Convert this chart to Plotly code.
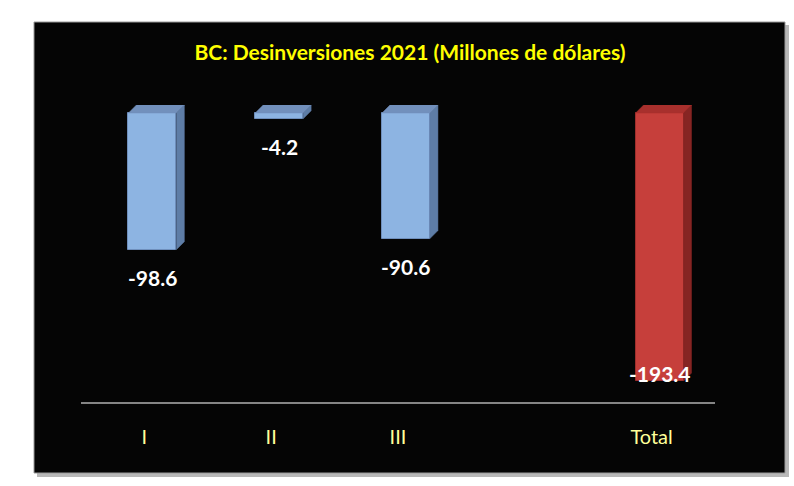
import plotly.graph_objects as go

# ---- data ----
categories = ["I", "II", "III", "", "Total"]
values = [-98.6, -4.2, -90.6, None, -193.4]
label_texts = ["-98.6", "-4.2", "-90.6", "", "-193.4"]
title_text = "BC: Desinversiones 2021 (Millones de dólares)"

# ---- style ----
FONT = "Lato"
front_cols = ["#8DB4E2", "#8DB4E2", "#8DB4E2", None, "#C63F3B"]
side_cols = ["#5E7DA6", "#5E7DA6", "#5E7DA6", None, "#862523"]
top_cols = ["#7290BC", "#7290BC", "#7290BC", None, "#A8302D"]
edge_cols = ["#6F8FBC", "#6F8FBC", "#6F8FBC", None, "#9E2F2C"]

W, H = 794, 486
ML, MR, MT, MB = 81, 79, 105, 84
YMIN, YMAX = -208.5, 5.8
BAR_W = 0.378
SHIFT = 0.063  # perspective offset of bars relative to tick labels
DX = 0.063     # depth in x units
DY = 5.8       # depth in y units

xpos = list(range(len(categories)))

fig = go.Figure()

# depth faces (side and top), computed from data
for i, v in enumerate(values):
    if v is None:
        continue
    xl = xpos[i] + SHIFT - BAR_W / 2
    xr = xpos[i] + SHIFT + BAR_W / 2
    fig.add_trace(go.Scatter(
        x=[xr, xr + DX, xr + DX, xr, xr],
        y=[0, DY, v + DY, v, 0],
        fill="toself", fillcolor=side_cols[i], mode="lines",
        line=dict(color=side_cols[i], width=0.5),
        hoverinfo="skip", showlegend=False))
    fig.add_trace(go.Scatter(
        x=[xl, xl + DX, xr + DX, xr, xl],
        y=[0, DY, DY, 0, 0],
        fill="toself", fillcolor=top_cols[i], mode="lines",
        line=dict(color=top_cols[i], width=0.5),
        hoverinfo="skip", showlegend=False))

fig.add_trace(go.Bar(
    x=xpos, y=values, width=BAR_W, offset=SHIFT - BAR_W / 2,
    marker=dict(color=[c or "rgba(0,0,0,0)" for c in front_cols],
                line=dict(color=[c or "rgba(0,0,0,0)" for c in edge_cols], width=1)),
    hoverinfo="skip", showlegend=False))

# data labels
annotations = []
for i, v in enumerate(values):
    if v is None:
        continue
    shifted_px = (YMAX - v) / (YMAX - YMIN) * (H - MT - MB) + 29
    if shifted_px > (H - MT - MB) - 10:
        y, ys = YMIN, 29
    else:
        y, ys = v, -28
    annotations.append(dict(
        x=xpos[i] + SHIFT, y=y, yshift=ys, text=f"<b>{label_texts[i]}</b>",
        showarrow=False, xanchor="center", yanchor="middle",
        font=dict(family=FONT, size=21, color="white")))

pw = W - ML - MR
ph = H - MT - MB
def px_x(p):
    return (p - ML) / pw
def px_y(p):
    return (H - MB - p) / ph

shapes = [
    dict(type="rect", xref="paper", yref="paper", layer="below",
         x0=px_x(37), x1=px_x(789), y0=px_y(477), y1=px_y(25),
         fillcolor="#B8B8B8", line=dict(width=0)),
    dict(type="rect", xref="paper", yref="paper", layer="below",
         x0=px_x(34), x1=px_x(785), y0=px_y(473), y1=px_y(22),
         fillcolor="#050505", line=dict(color="#9A9A9A", width=1)),
]

fig.update_layout(
    width=W, height=H,
    margin=dict(l=ML, r=MR, t=MT, b=MB),
    paper_bgcolor="white", plot_bgcolor="rgba(0,0,0,0)",
    title=dict(text=f"<b>{title_text}</b>", x=410 / W, xref="container",
               y=1 - 53 / H, yref="container", xanchor="center", yanchor="middle",
               font=dict(family=FONT, size=21, color="#FFFF00")),
    shapes=shapes, annotations=annotations,
    bargap=0,
)
fig.update_xaxes(range=[-0.5, len(categories) - 0.5], tickvals=xpos, ticktext=categories,
                 showgrid=False, zeroline=False, showline=True, linecolor="#858585",
                 linewidth=2, ticks="", ticklabelstandoff=16,
                 tickfont=dict(family=FONT, size=20, color="#FFFF99"))
fig.update_yaxes(range=[YMIN, YMAX], visible=False, showgrid=False, zeroline=False)

fig.write_html("out.html", config={"displayModeBar": False},
               post_script="document.body.style.margin='0';")
